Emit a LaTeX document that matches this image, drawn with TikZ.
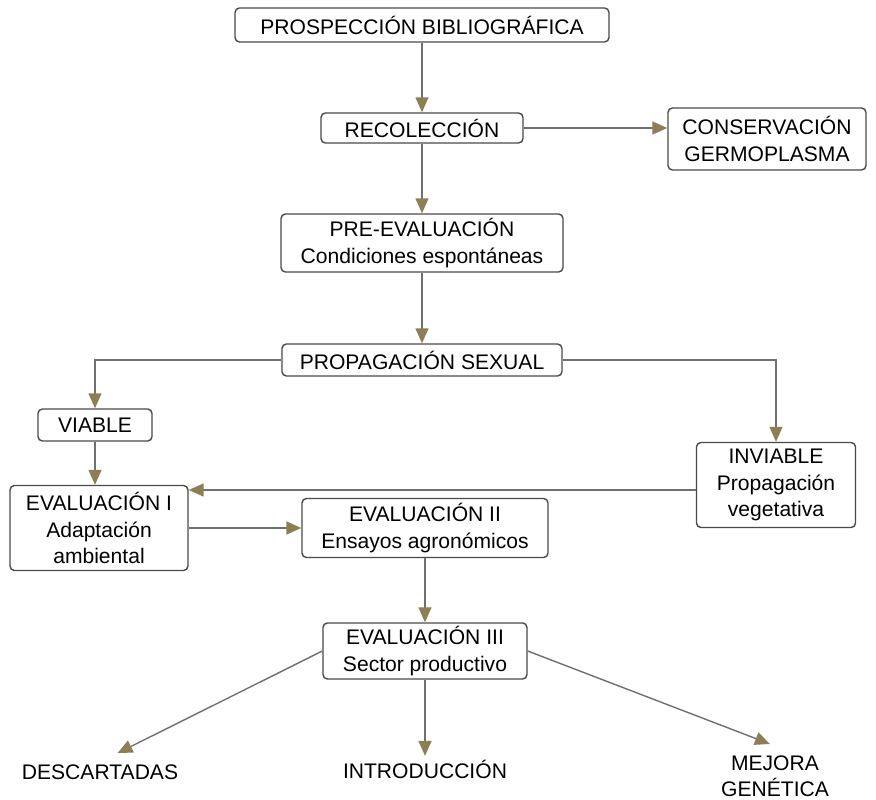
\documentclass[tikz,border=0pt]{standalone}
\usepackage{fontspec}
\setmainfont{Liberation Sans}
\usetikzlibrary{arrows.meta}

\definecolor{linegray}{HTML}{707070}
\definecolor{tipolive}{HTML}{8C7F55}
\definecolor{boxgray}{HTML}{4A4A4A}

\tikzset{
	box/.style={draw=boxgray,line width=0.8pt,rounded corners=2.5pt,align=center,inner sep=2pt},
	leaf/.style={align=center,inner sep=2pt},
	arr/.style={draw=linegray,line width=0.8pt,-{Triangle[length=3mm,width=2.6mm,color=tipolive]}}
}

\begin{document}
\begin{tikzpicture}[x=0.02cm,y=-0.02cm,font=\fontsize{12}{15}\selectfont]
	\useasboundingbox (0,0) rectangle (876,800);
	% boxes
	\node [box,minimum width=7.48cm,minimum height=0.68cm] (prosp) at (422,25) {PROSPECCIÓN BIBLIOGRÁFICA};
	\node [box,minimum width=4.04cm,minimum height=0.6cm] (recol) at (422,128) {RECOLECCIÓN};
	\node [box,minimum width=3.96cm,minimum height=1.24cm] (conserv) at (767,139) {CONSERVACIÓN\\GERMOPLASMA};
	\node [box,minimum width=5.64cm,minimum height=1.16cm] (preeval) at (422,243) {PRE-EVALUACIÓN\\Condiciones espontáneas};
	\node [box,minimum width=5.6cm,minimum height=0.64cm] (propsex) at (422,360) {PROPAGACIÓN SEXUAL};
	\node [box,minimum width=2.28cm,minimum height=0.64cm] (viable) at (95,425) {VIABLE};
	\node [box,minimum width=3.18cm,minimum height=1.7cm] (inviable) at (776,485) {INVIABLE\\Propagación\\vegetativa};
	\node [box,minimum width=3.56cm,minimum height=1.7cm] (evalI) at (99,528) {EVALUACIÓN I\\Adaptación\\ambiental};
	\node [box,minimum width=4.92cm,minimum height=1.18cm] (evalII) at (425,528) {EVALUACIÓN II\\Ensayos agronómicos};
	\node [box,minimum width=4.08cm,minimum height=1.04cm] (evalIII) at (425,651) {EVALUACIÓN III\\Sector productivo};
	% results
	\node [leaf] (descart) at (100,772) {DESCARTADAS};
	\node [leaf] (intro) at (425,769) {INTRODUCCIÓN};
	\node [leaf] (mejora) at (775,776) {MEJORA\\GENÉTICA};
	% arrows
	\draw [arr] (prosp) -- (recol);
	\draw [arr] (recol) -- (recol -| conserv.west);
	\draw [arr] (recol) -- (preeval);
	\draw [arr] (preeval) -- (propsex);
	\draw [arr] (propsex.west) -| (viable.north);
	\draw [arr] (propsex.east) -| (inviable.north);
	\draw [arr] (viable) -- (viable |- evalI.north);
	\draw [arr] ([yshift=-0.1cm]inviable.west) -- ([yshift=-0.1cm]inviable.west -| evalI.east);
	\draw [arr] (evalI) -- (evalII);
	\draw [arr] (evalII) -- (evalIII);
	\draw [arr] (evalIII.west) -- ([xshift=0.35cm,yshift=0.15cm]descart.north);
	\draw [arr] (evalIII) -- (intro);
	\draw [arr] (evalIII.east) -- ([xshift=-0.1cm,yshift=0.15cm]mejora.north);
\end{tikzpicture}
\end{document}
